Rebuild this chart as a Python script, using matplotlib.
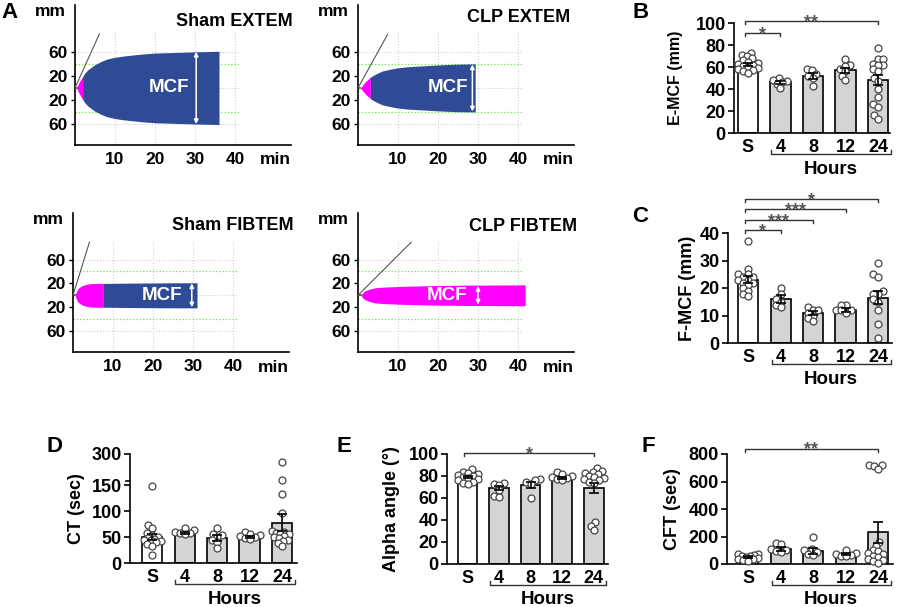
import numpy as np
import matplotlib
matplotlib.use("Agg")
import matplotlib.pyplot as plt

plt.rcParams['font.family'] = ['Liberation Sans', 'DejaVu Sans']
plt.rcParams['font.weight'] = 'bold'
plt.rcParams['axes.linewidth'] = 1.2

W, H = 900, 607
BLUE = '#2f4b95'
MAGENTA = '#ff00ff'
GRAYBAR = '#d4d4d4'

#*---------- panel A: ROTEM traces, time (min) vs half amplitude (mm) ----------
sham_ex_t = [0.4, 1.0, 1.9, 2.5, 3.2, 4.0, 4.8, 6.5, 8.0, 10, 12, 14.8, 17, 20, 25, 30, 36]
sham_ex_a = [0, 9, 19, 25, 30, 34, 38, 44, 48, 51, 53, 55, 56.5, 58, 59, 60, 61]
clp_ex_t = [0.6, 1.8, 3.1, 4.4, 6, 8, 9.5, 12, 14.3, 17, 19.3, 24.3, 29.3]
clp_ex_a = [0, 10, 18, 23, 28, 31, 33, 35, 36, 37, 38, 39.5, 40]
sham_fib_t = [0.5, 0.9, 1.3, 2.0, 2.6, 3.4, 4.3, 6, 7.6, 15, 25, 31]
sham_fib_a = [0, 7, 11.7, 15, 17, 18.5, 19.5, 20, 20, 20.5, 21, 21]
clp_fib_t = [0.75, 1.2, 1.8, 3, 4.3, 6, 8.5, 12, 16.8, 21, 25.2, 30, 35, 41.8]
clp_fib_a = [0, 4.5, 7.7, 10.5, 12.7, 13.6, 14.4, 15.3, 16, 16.5, 16.9, 17.1, 17.3, 17.5]
ct_end = [1.9, 3.1, 7.6, 41.8]            # end of the magenta (clotting time) part
tangent = [(6.1, 90), (7.4, 89), (4.1, 89), (13.3, 89)]
mcf_arrow = [(30.3, 60), (28.6, 39), (29.7, 20), (30, 15.5)]
mcf_text_t = [23.6, 22.4, 22.2, 22.3]
trace_titles = ['Sham EXTEM', 'CLP EXTEM', 'Sham FIBTEM', 'CLP FIBTEM']

#*---------- bar panels ----------
groups = ['S', '4', '8', '12', '24']

b_mean = [62, 46, 52, 57, 48]
b_sem = [1.5, 1.2, 2.5, 2.2, 4.8]
b_pts = [[73, 71, 70, 68, 66, 65, 64, 63, 62, 61, 60, 59, 58, 57, 56, 55],
         [50, 48, 47, 46, 45, 41],
         [58, 57, 54, 52, 50, 43],
         [67, 62, 61, 58, 56, 52, 48],
         [77, 67, 67, 63, 62, 62, 58, 56, 50, 47, 40, 33, 26, 24, 16, 13]]

c_mean = [23, 16, 11, 12, 16.5]
c_sem = [1.3, 1.5, 0.7, 0.6, 2.3]
c_pts = [[37, 27, 25, 25, 24, 24, 23, 23, 22, 22, 21, 20, 19, 18, 17],
         [20, 18, 16, 15, 14, 13],
         [13, 12, 12, 11, 10, 9, 8],
         [14, 14, 12, 12, 12, 11],
         [29, 25, 24, 19, 18, 18, 16, 15, 12, 7, 2]]

d_mean = [50, 58, 48, 50, 78]
d_sem = [6, 2, 5, 2, 17]
d_pts = [[148, 73, 67, 58, 53, 50, 48, 46, 45, 44, 42, 40, 37, 33, 15],
         [68, 64, 60, 58, 57, 55],
         [68, 56, 54, 50, 45, 40, 28],
         [60, 55, 53, 52, 50, 48, 47],
         [262, 177, 133, 96, 62, 60, 58, 56, 55, 52, 50, 48, 45, 42, 38, 32]]

e_mean = [79, 69, 72, 78, 69]
e_sem = [1, 2, 3, 1, 4.5]
e_pts = [[86, 84, 83, 82, 81, 80, 79, 78, 77, 76, 75, 74, 73],
         [74, 73, 72, 67, 62, 61],
         [77, 76, 75, 73, 60],
         [84, 82, 80, 79, 78, 77, 76],
         [87, 85, 84, 83, 82, 80, 79, 78, 77, 76, 75, 74, 38, 35, 31]]

f_mean = [50, 110, 95, 72, 230]
f_sem = [8, 12, 22, 8, 75]
f_pts = [[75, 70, 65, 60, 55, 50, 45, 40, 35, 30, 25],
         [150, 148, 110, 100, 95, 85],
         [195, 110, 100, 90, 75, 65],
         [100, 80, 72, 65, 60, 55],
         [720, 718, 715, 690, 160, 130, 100, 95, 80, 70, 60, 50, 40, 30, 20, 10]]

# significance brackets: (group a, group b, height, stars)
b_sig = [(0, 1, 91, '*'), (0, 4, 102, '**')]
c_sig = [(0, 1, 41, '*'), (0, 2, 44.7, '***'), (0, 3, 48.6, '***'), (0, 4, 52.2, '*')]
e_sig = [(0, 4, 101, '*')]
f_sig = [(0, 4, 840, '**')]

fig = plt.figure(figsize=(9, 6.07), dpi=100)


def px_axes(l, t, r, b):
    return fig.add_axes([l / W, 1 - b / H, (r - l) / W, (b - t) / H])


def px_text(x, y, s, **kw):
    kw.setdefault('va', 'center')
    fig.text(x / W, 1 - y / H, s, **kw)


#*---------- panel A ----------
traces = [(sham_ex_t, sham_ex_a), (clp_ex_t, clp_ex_a),
          (sham_fib_t, sham_fib_a), (clp_fib_t, clp_fib_a)]
boxes = [(75, 5, 291, 145), (358, 5, 574, 145), (73, 213, 289, 352), (358, 213, 574, 352)]
title_pos = [(293, 21), (570, 18), (294, 225), (577, 226)]

for i, (t, a) in enumerate(traces):
    ax = px_axes(*boxes[i])
    t = np.array(t, float)
    a = np.array(a, float)
    ax.set_xlim(0, 54)
    ax.set_ylim(-95, 138)
    for s in ['top', 'right']:
        ax.spines[s].set_visible(False)
    ax.vlines([10, 20, 30, 40], -95, 93, colors='#d0d0d0', linestyles=':', lw=0.8, zorder=0)
    ax.hlines([60, 0, -60], 0, 41, colors='#d0d0d0', linestyles=':', lw=0.8, zorder=0)
    ax.hlines([40, -40], 0, 41, colors='#66ee44', linestyles=':', lw=0.9, zorder=0)
    m = t <= ct_end[i]
    ax.fill_between(t[m], -a[m], a[m], color=MAGENTA, lw=0, zorder=2)
    b = t >= ct_end[i]
    if b.sum() > 1:
        ax.fill_between(t[b], -a[b], a[b], color=BLUE, lw=0, zorder=2)
    ax.plot([0, t[0]], [0, 0], color='#336600', lw=1.2, zorder=3)
    ax.plot([0, tangent[i][0]], [0, tangent[i][1]], color='#555555', lw=0.8, zorder=3)
    at, aa = mcf_arrow[i]
    ax.annotate('', xy=(at, aa), xytext=(at, -aa),
                arrowprops=dict(arrowstyle='<|-|>', color='white', lw=1.1,
                                mutation_scale=6, shrinkA=0, shrinkB=0), zorder=4)
    ax.text(mcf_text_t[i], 0, 'MCF', color='white', fontsize=13.5,
            ha='center', va='center', zorder=4)
    ax.set_yticks([60, 20, -20, -60])
    ax.set_yticklabels(['60', '20', '20', '60'])
    ax.set_xticks([10, 20, 30, 40])
    ax.tick_params(axis='x', length=0, pad=5, labelsize=12.5)
    ax.tick_params(axis='y', length=3, width=1, pad=2, labelsize=12.5)
    ax.annotate('min', xy=(50, 0), xycoords=('data', 'axes fraction'),
                xytext=(0, -15), textcoords='offset pixels',
                ha='center', va='center', fontsize=12.5)
    l, tp = boxes[i][0], boxes[i][1]
    px_text(l - 25, tp + 7, 'mm', ha='center', fontsize=12.5)
    px_text(title_pos[i][0], title_pos[i][1], trace_titles[i], ha='right', fontsize=13)


#*---------- bar panels ----------
def swarm(ax, xc, vals, d=5.0, maxoff=10):
    # simple beeswarm in pixel space, kept inside the bar width
    vals = np.asarray(vals, float)
    disp = ax.transData.transform(np.column_stack([np.full(len(vals), xc), vals]))
    ys = disp[:, 1]
    cands = np.arange(-maxoff, maxoff + 0.5, 1.0)
    cands = cands[np.argsort(np.abs(cands), kind='stable')]
    placed = []
    offs = np.zeros(len(vals))
    for i in np.argsort(ys):
        y = ys[i]
        best, best_gap = 0.0, -1
        for o in cands:
            gap = min([np.hypot(o - po, y - py) for po, py in placed] + [99])
            if gap >= d:
                best = o
                break
            if gap > best_gap + 0.5:
                best, best_gap = o, gap
        placed.append((best, y))
        offs[i] = best
    ppu = ax.transData.transform((1, 0))[0] - ax.transData.transform((0, 0))[0]
    return xc + offs / ppu


def bar_panel(box, xlim, means, sems, pts, ylim, yticks, ylabel, lab_x, lab_fs, sigs, sig_h,
              scale=None):
    ax = px_axes(*box)
    hpx = box[3] - box[1]
    if scale is not None:
        ax.set_yscale('function', functions=scale)
    ax.set_xlim(*xlim)
    ax.set_ylim(*ylim)
    for s in ['top', 'right']:
        ax.spines[s].set_visible(False)
    x = np.arange(len(groups))
    ax.bar(x, means, width=0.62, color=['white'] + [GRAYBAR] * 4,
           edgecolor='black', lw=1.2, zorder=1)
    for j, v in enumerate(pts):
        xs = swarm(ax, j, v)
        ax.plot(xs, v, 'o', ms=5, mfc='white', mec='#444444', mew=0.9, zorder=3, clip_on=False)
    ax.errorbar(x, means, yerr=sems, fmt='none', ecolor='black', elinewidth=1.2,
                capsize=3.5, capthick=1.2, zorder=4)
    ax.set_xticks(x)
    ax.set_xticklabels(groups)
    ax.set_yticks(yticks)
    ax.tick_params(axis='x', length=0, pad=4, labelsize=13)
    ax.tick_params(axis='y', length=4, width=1.2, pad=2, labelsize=13)
    ax.text(lab_x, 0.5, ylabel, rotation=90, ha='center', va='center',
            fontsize=lab_fs, transform=ax.transAxes)
    tr = ax.get_xaxis_transform()
    yb = -21 / hpx
    ax.plot([0.72, 0.72, 4.4, 4.4], [yb + 4 / hpx, yb, yb, yb + 4 / hpx], transform=tr,
            clip_on=False, color='#333333', lw=1)
    ax.text(2.55, -36 / hpx, 'Hours', transform=tr, ha='center', va='center', fontsize=13.5)
    for g1, g2, y, lab in sigs:
        ax.plot([g1 - 0.1, g1 - 0.1, g2, g2], [y - sig_h, y, y, y - sig_h], color='#333333',
                lw=1, clip_on=False)
        ax.annotate(lab, xy=((g1 - 0.1 + g2) / 2, y), xytext=(0, -6), textcoords='offset pixels',
                    ha='center', va='baseline', fontsize=13, color='#555555',
                    annotation_clip=False)
    return ax


bar_panel((734, 23, 890, 133), (-0.43, 4.37), b_mean, b_sem, b_pts, (0, 100),
          [0, 20, 40, 60, 80, 100], 'E-MCF (mm)', -0.372, 11.5, b_sig, 3)
bar_panel((728, 233, 892, 343), (-0.62, 4.43), c_mean, c_sem, c_pts, (0, 40),
          [0, 10, 20, 30, 40], 'F-MCF (mm)', -0.25, 13, c_sig, 1.1)


def brk_fwd(v):
    v = np.asarray(v, float)
    return np.where(v <= 150, v, 150 + (v - 150) * 0.4)


def brk_inv(u):
    u = np.asarray(u, float)
    return np.where(u <= 150, u, 150 + (u - 150) / 0.4)


axd = bar_panel((130, 454, 297, 563), (-0.68, 4.46), d_mean, d_sem, d_pts, (0, 300),
                [0, 50, 100, 150, 300], 'CT (sec)', -0.323, 13, [], 0,
                scale=(brk_fwd, brk_inv))
axd.spines['left'].set_visible(False)
ytr = axd.get_yaxis_transform()
axd.plot([0, 0], [0, 160], color='black', lw=1.2, transform=ytr, clip_on=False)
axd.plot([0, 0], [172, 300], color='black', lw=1.2, transform=ytr, clip_on=False)
axd.plot([-0.025, 0], [172, 172], color='black', lw=1.2, transform=ytr, clip_on=False)

bar_panel((447, 454, 608, 564), (-0.65, 4.45), e_mean, e_sem, e_pts, (0, 100),
          [0, 20, 40, 60, 80, 100], 'Alpha angle (°)', -0.342, 13, e_sig, 3)
bar_panel((727, 454, 893, 564), (-0.65, 4.46), f_mean, f_sem, f_pts, (0, 800),
          [0, 200, 400, 600, 800], 'CFT (sec)', -0.331, 13, f_sig, 24)

#*---------- panel letters ----------
for lx, ly, s in [(10, 12, 'A'), (641, 12, 'B'), (640, 217, 'C'),
                  (54, 447, 'D'), (344, 447, 'E'), (648, 447, 'F')]:
    px_text(lx, ly, s, ha='center', fontsize=16)

fig.savefig('out.png', dpi=100)
